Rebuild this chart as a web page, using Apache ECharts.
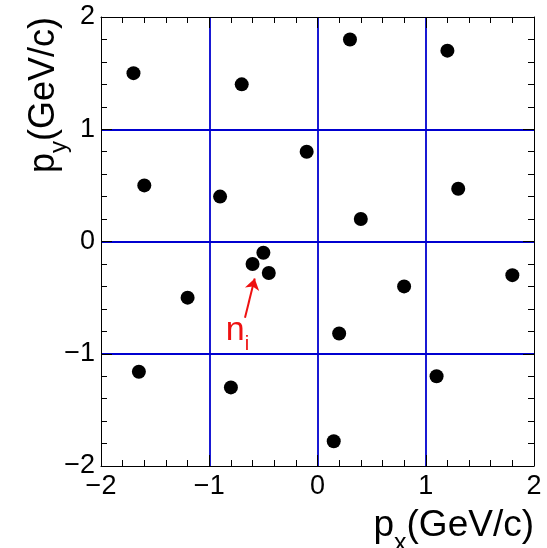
<!DOCTYPE html>
<html><head><meta charset="utf-8">
<script src="https://cdn.jsdelivr.net/npm/echarts@6/dist/echarts.min.js"></script>
<style>html,body{margin:0;padding:0;background:#fff}#c{width:547px;height:548px}</style>
</head><body><div id="c"></div>
<script>
// data
const pxValues = [-1.7, -0.7, 0.3, 1.2, -0.1, -1.6, -0.9, 1.3, 0.4, -0.5, -0.6, -0.45, -1.2, 0.8, 1.8, 0.2, -1.65, -0.8, 1.1, 0.15];
const pyValues = [1.5, 1.4, 1.8, 1.7, 0.8, 0.5, 0.4, 0.47, 0.2, -0.1, -0.2, -0.28, -0.5, -0.4, -0.3, -0.82, -1.16, -1.3, -1.2, -1.78];
const tickValues = [-2, -1, 0, 1, 2];
const minorStep = 0.2;
const arrowStart = [-0.67, -0.68];
const arrowEnd = [-0.58, -0.33];
const labelPos = [-0.74, -0.79];
const xTitle = ['p', 'x', '(GeV/c)'];
const yTitle = ['p', 'y', '(GeV/c)'];
const arrowLabel = ['n', 'i'];

const FONT = '"Liberation Sans", Arial, sans-serif';
const GRID = '#0000d0';
const RED = '#ee1111';
const fmt = v => (v < 0 ? '\u2212' + Math.abs(v) : String(v));

function axis(extra) {
  return Object.assign({
    type: 'value',
    min: tickValues[0],
    max: tickValues[tickValues.length - 1],
    interval: tickValues[1] - tickValues[0],
    axisLine: { show: true, onZero: false, lineStyle: { color: '#000', width: 1 } },
    axisTick: { show: true, inside: true, length: 11, lineStyle: { color: '#000', width: 1 } },
    axisLabel: { show: false },
    splitLine: { show: false }
  }, extra);
}
function minorAxis(pos) {
  return axis({
    position: pos,
    interval: minorStep,
    axisLine: { show: false, onZero: false },
    axisTick: { show: true, inside: true, length: 6, lineStyle: { color: '#000', width: 1 } }
  });
}
const labelStyle = { show: true, color: '#000', fontSize: 27, fontFamily: FONT, formatter: fmt };
const splitStyle = { show: true, showMinLine: false, showMaxLine: false, lineStyle: { color: GRID, width: 1.8 } };

const chart = echarts.init(document.getElementById('c'), null, { renderer: 'canvas' });
chart.setOption({
  animation: false,
  backgroundColor: '#fff',
  grid: { left: 101, right: 13, top: 17, bottom: 82, containLabel: false },
  xAxis: [
    axis({ position: 'bottom', axisLabel: Object.assign({ margin: 7 }, labelStyle), splitLine: splitStyle }),
    axis({ position: 'top' }),
    minorAxis('bottom'),
    minorAxis('top')
  ],
  yAxis: [
    axis({ position: 'left', axisLabel: Object.assign({ margin: 6 }, labelStyle), splitLine: splitStyle }),
    axis({ position: 'right' }),
    minorAxis('left'),
    minorAxis('right')
  ],
  series: [{
    type: 'scatter',
    xAxisIndex: 0, yAxisIndex: 0,
    symbol: 'circle',
    symbolSize: 14,
    itemStyle: { color: '#000', opacity: 1 },
    data: pxValues.map((x, i) => [x, pyValues[i]]),
    markLine: {
      silent: true,
      animation: false,
      symbol: ['none', 'arrow'],
      symbolSize: 11,
      label: { show: false },
      lineStyle: { color: RED, width: 2, type: 'solid', opacity: 1 },
      data: [[{ coord: arrowStart }, { coord: arrowEnd }]]
    },
    markPoint: {
      silent: true,
      animation: false,
      symbolSize: 0,
      data: [{ coord: labelPos }],
      label: {
        show: true,
        position: 'inside',
        formatter: '{n|' + arrowLabel[0] + '}{i|' + arrowLabel[1] + '}',
        rich: {
          n: { fontSize: 34, fontFamily: FONT, color: RED, lineHeight: 34, verticalAlign: 'middle' },
          i: { fontSize: 20, fontFamily: FONT, color: RED, lineHeight: 10, padding: [28, 0, 0, 0], verticalAlign: 'middle' }
        }
      }
    }
  }],
  graphic: [
    {
      type: 'text', x: 534, y: 526,
      style: {
        text: '{a|' + xTitle[0] + '}{s|' + xTitle[1] + '}{a|' + xTitle[2] + '}',
        align: 'right', verticalAlign: 'middle',
        rich: {
          a: { fontSize: 37, fontFamily: FONT, fill: '#000', lineHeight: 40, verticalAlign: 'middle' },
          s: { fontSize: 25, fontFamily: FONT, fill: '#000', lineHeight: 10, padding: [36, 0, 0, 0], verticalAlign: 'middle' }
        }
      }
    },
    {
      type: 'text', x: 44, y: 95, rotation: Math.PI / 2,
      style: {
        text: '{a|' + yTitle[0] + '}{s|' + yTitle[1] + '}{a|' + yTitle[2] + '}',
        align: 'center', verticalAlign: 'middle',
        rich: {
          a: { fontSize: 36, fontFamily: FONT, fill: '#000', lineHeight: 40, verticalAlign: 'middle' },
          s: { fontSize: 24, fontFamily: FONT, fill: '#000', lineHeight: 10, padding: [30, 0, 0, 0], verticalAlign: 'middle' }
        }
      }
    }
  ]
});
</script>
</body></html>
